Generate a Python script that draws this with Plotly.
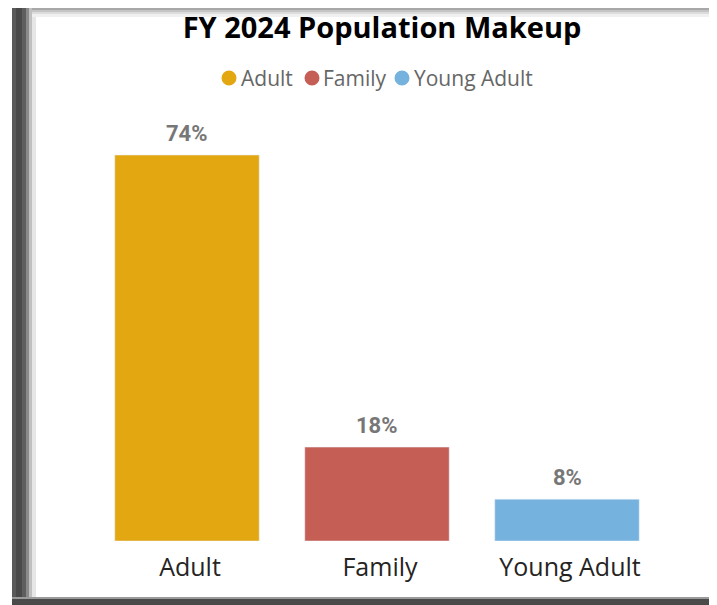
import plotly.graph_objects as go

categories = ["Adult", "Family", "Young Adult"]
shares = [74, 18, 8]
labels = ["74%", "18%", "8%"]
colors = ["#E3A712", "#C55F55", "#76B2DE"]

W, H = 717, 605
OFF = 8  # page body offset of the plot div
PX0, PX1, PY0, PY1 = 92, 662, 130, 541
L, R, T = PX0 - OFF, W - (PX1 - OFF), PY0 - OFF
B = H - (PY1 - OFF)
pw, ph = W - L - R, H - T - B

def px(x):
    return (x - OFF - L) / pw

def py(y):
    return 1 - (y - OFF - T) / ph

fig = go.Figure()
fig.add_trace(go.Bar(
    x=categories, y=shares, marker_color=colors, showlegend=False,
    hoverinfo="skip",
))

annotations = []
for c, v, lab in zip(categories, shares, labels):
    annotations.append(dict(x=c, y=v, xref="x", yref="y", text=f"<b>{lab}</b>",
                            showarrow=False, yanchor="bottom", yshift=7,
                            font=dict(family="Roboto", size=22, color="#777777")))

leg_circle_x = [229, 312, 402]
leg_text_x = [239, 321, 412]
leg_y = 78
shapes = []
for c, col, cx, tx in zip(categories, colors, leg_circle_x, leg_text_x):
    shapes.append(dict(type="circle", xref="paper", yref="paper",
                       xsizemode="pixel", ysizemode="pixel",
                       xanchor=px(cx), yanchor=py(leg_y), x0=-7.5, x1=7.5, y0=-7.5, y1=7.5,
                       fillcolor=col, line_width=0))
    annotations.append(dict(text=c, xref="paper", yref="paper", x=px(tx), y=py(leg_y),
                            xanchor="left", yanchor="middle", showarrow=False,
                            font=dict(family="Open Sans", size=21, color="#666666")))

left_steps = [(12, 16, "#5a5a5a"), (16, 22, "#4a4a4a"), (22, 26, "#5e5e5e"),
              (26, 29, "#8a8a8a"), (29, 32, "#c0c0c0"), (32, 36, "#e6e6e6")]
for x0, x1, c in left_steps:
    shapes.append(dict(type="rect", xref="paper", yref="paper", x0=px(x0), x1=px(x1),
                       y0=py(H), y1=py(OFF), fillcolor=c, line_width=0, layer="below"))
top_steps = [(OFF, 10, "#a8a8a8"), (10, 12, "#c4c4c4"), (12, 14, "#dcdcdc"), (14, 17, "#f0f0f0")]
for y0, y1, c in top_steps:
    shapes.append(dict(type="rect", xref="paper", yref="paper", x0=px(32), x1=px(W + OFF),
                       y0=py(y1), y1=py(y0), fillcolor=c, line_width=0, layer="below"))
bot_steps = [(597, 599, "#9a9a9a"), (599, 605, "#4a4a4a")]
for y0, y1, c in bot_steps:
    shapes.append(dict(type="rect", xref="paper", yref="paper", x0=px(12), x1=px(W + OFF),
                       y0=py(y1), y1=py(y0), fillcolor=c, line_width=0, layer="above"))

fig.update_layout(
    width=W, height=H,
    margin=dict(l=L, r=R, t=T, b=B),
    paper_bgcolor="white", plot_bgcolor="white",
    showlegend=False,
    title=dict(text="<b>FY 2024 Population Makeup</b>", xref="container",
               x=(382 - OFF) / W, xanchor="center",
               yref="container", y=1 - (28 - OFF) / H, yanchor="middle",
               font=dict(family="Open Sans", size=29, color="#000000")),
    annotations=annotations,
    bargap=0.24,
    xaxis=dict(showgrid=False, showline=False, ticks="", zeroline=False,
               ticklabelstandoff=9, ticklabelshift=3,
               tickfont=dict(family="Open Sans", size=25, color="#252423")),
    yaxis=dict(range=[0, 78.8], visible=False, showgrid=False, zeroline=False),
    shapes=shapes,
)

fig.write_html("out.html")
